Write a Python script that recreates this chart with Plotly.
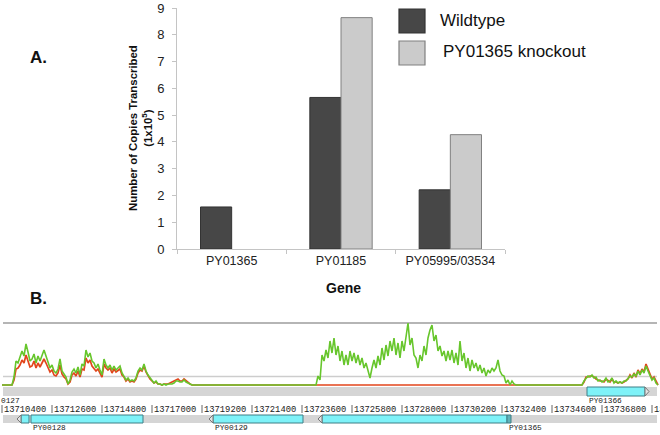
import plotly.graph_objects as go

# ---------------- Panel A data ----------------
genes_bar = ["PY01365", "PY01185", "PY05995/03534"]
wildtype = [1.57, 5.66, 2.21]
knockout = [0, 8.64, 4.27]
series_names = ["Wildtype", "PY01365 knockout"]
y_tick_vals = [0, 1, 2, 3, 4, 5, 6, 7, 8, 9]

# ---------------- Panel B data ----------------
cov_start = 13710400          # genomic position of the first coverage sample
cov_step = 88                 # bp between coverage samples

green_left = [0, 0, 0, 0, 0, 0, 8, 24, 22, 28,
              34, 29, 41, 33, 24, 26, 31, 22, 29, 24,
              30, 35, 29, 24, 17, 20, 14, 12, 16, 26,
              14, 11, 8, 1, 5, 13, 16, 12, 18, 10,
              21, 19, 35, 28, 32, 24, 22, 17, 21, 15,
              10, 26, 20, 17, 20, 15, 19, 15, 17, 19,
              12, 9, 5, 7, 4, 5, 4, 7, 14, 17,
              15, 21, 14, 10, 7, 5, 2, 4, 1, 1,
              0, 1, 0, 1, 1, 1, 2, 4, 4, 3,
              3, 5, 3, 2, 1, 0, 0, 0]
red_left = [0, 0, 0, 0, 0, 0, 5, 16, 17, 20,
            25, 22, 30, 25, 18, 19, 24, 17, 22, 18,
            23, 26, 22, 18, 13, 15, 10, 9, 12, 20,
            11, 8, 6, 1, 3, 10, 12, 9, 14, 8,
            16, 15, 27, 22, 25, 19, 17, 14, 16, 12,
            8, 21, 17, 15, 17, 12, 16, 13, 15, 16,
            10, 8, 4, 6, 3, 4, 3, 6, 12, 15,
            14, 19, 13, 9, 6, 4, 2, 3, 1, 1,
            0, 1, 1, 1, 2, 3, 4, 5, 6, 4,
            4, 6, 4, 2, 1, 0, 0, 0]
flat_gap1 = [0] * 60
green_mid = [9, 5, 30, 24, 35, 27, 44, 32, 47, 30,
             39, 24, 34, 20, 30, 20, 34, 24, 32, 22,
             30, 20, 27, 17, 22, 14, 7, 17, 25, 17,
             29, 20, 37, 25, 40, 29, 44, 34, 47, 30,
             42, 27, 44, 34, 50, 62, 40, 47, 30, 27,
             17, 30, 24, 39, 30, 47, 55, 60, 44, 50,
             34, 39, 29, 34, 24, 34, 25, 35, 22, 32,
             20, 44, 24, 32, 17, 27, 14, 25, 17, 22,
             14, 20, 12, 17, 9, 15, 12, 17, 14, 17,
             25, 14, 10, 9, 2, 5, 0, 4, 1, 0]
red_mid = [0] * 100
flat_gap2 = [0] * 33
green_right = [4, 7, 9, 8, 10, 7, 8, 4, 5, 3,
               4, 7, 3, 4, 7, 2, 4, 2, 3, 2,
               4, 4, 7, 9, 8, 11, 9, 14, 10, 15,
               12, 19, 14, 10, 5, 7, 2, 0]
red_right = [3, 8, 8, 9, 9, 8, 6, 5, 4, 4,
             3, 6, 4, 3, 6, 3, 3, 2, 3, 2,
             3, 5, 6, 10, 7, 12, 8, 15, 11, 16,
             13, 21, 16, 12, 6, 8, 3, 0]

green_cov = green_left + flat_gap1 + green_mid + flat_gap2 + green_right
red_cov = red_left + flat_gap1 + red_mid + flat_gap2 + red_right
cov_pos = [cov_start + i * cov_step for i in range(len(green_cov))]

ruler_ticks = [13710400, 13712600, 13714800, 13717000, 13719200, 13721400, 13723600,
               13725800, 13728000, 13730200, 13732400, 13734600, 13736800, 13739000]

gene_names = ["PY00128", "PY00129", "", "PY01365", "PY01366"]
gene_exons = [[(13711236, 13711588), (13711676, 13716604)],
              [(13719684, 13723644)],
              [(13724480, 13732620)],
              [(13732620, 13732796)],
              [(13736140, 13738692)]]
gene_strand = ["-", "-", "-", "-", "+"]
gene_track = [0, 0, 0, 0, 1]
gene_color = ["#7ef2f8", "#7ef2f8", "#7ef2f8", "#5fb3ba", "#7ef2f8"]
offedge_label = "0127"

# ---------------- layout helpers ----------------
W, H = 660, 435
def pxx(v): return v / W
def pyy(v): return 1 - v / H

view_start = 13710312
bp_per_px = 44
SANS = "Liberation Sans, Arial, sans-serif"
MONO = "Liberation Mono, Courier New, monospace"

fig = go.Figure()

fig.add_trace(go.Bar(x=genes_bar, y=wildtype, name=series_names[0],
                     marker=dict(color="#474747", line=dict(color="#333333", width=1)),
                     xaxis="x", yaxis="y", showlegend=False, hoverinfo="skip"))
fig.add_trace(go.Bar(x=genes_bar, y=knockout, name=series_names[1],
                     marker=dict(color="#cbcbcb",
                                 line=dict(color="#808080",
                                           width=[1 if v > 0 else 0 for v in knockout])),
                     xaxis="x", yaxis="y", showlegend=False, hoverinfo="skip"))

fig.add_trace(go.Scatter(x=cov_pos, y=red_cov, mode="lines",
                         line=dict(color="#e2461d", width=1.7),
                         xaxis="x2", yaxis="y2", showlegend=False, hoverinfo="skip"))
fig.add_trace(go.Scatter(x=cov_pos, y=green_cov, mode="lines",
                         line=dict(color="#67c62c", width=1.6),
                         xaxis="x2", yaxis="y2", showlegend=False, hoverinfo="skip"))

shapes = []
annotations = []

# legend (panel A)
legend_colors = [("#474747", "#333333"), ("#cbcbcb", "#808080")]
legend_rows = [(9, 33, 438, 21), (41, 65, 441, 51)]
for name, (fc, lc), (y0, y1, tx, ty) in zip(series_names, legend_colors, legend_rows):
    shapes.append(dict(type="rect", xref="paper", yref="paper",
                       x0=pxx(399), x1=pxx(425), y0=pyy(y1), y1=pyy(y0),
                       fillcolor=fc, line=dict(color=lc, width=1.2)))
    annotations.append(dict(text=name, xref="paper", yref="paper", x=pxx(tx), y=pyy(ty),
                            xanchor="left", yanchor="middle", showarrow=False,
                            font=dict(family=SANS, size=17, color="#111111")))

annotations.append(dict(text="<b>A.</b>", xref="paper", yref="paper", x=pxx(38), y=pyy(57),
                        xanchor="center", yanchor="middle",
                        showarrow=False, font=dict(family=SANS, size=17, color="#111111")))
annotations.append(dict(text="<b>B.</b>", xref="paper", yref="paper", x=pxx(38), y=pyy(298),
                        xanchor="center", yanchor="middle",
                        showarrow=False, font=dict(family=SANS, size=17, color="#111111")))
annotations.append(dict(text="<b>Number of Copies Transcribed<br>(1x10<sup>5</sup>)</b>",
                        xref="paper", yref="paper", x=pxx(140), y=pyy(128), textangle=-90,
                        xanchor="center", yanchor="middle",
                        showarrow=False, font=dict(family=SANS, size=11.4, color="#111111")))
annotations.append(dict(text="<b>Gene</b>", xref="paper", yref="paper", x=pxx(343), y=pyy(288),
                        xanchor="center", yanchor="middle",
                        showarrow=False, font=dict(family=SANS, size=14, color="#111111")))

# panel B tracks (y2 units)
scale_top, scale_mid = 62, 8.5
band_up = (-11, -2)
band_low = (-38, -30)
shapes.append(dict(type="line", xref="paper", yref="y2", x0=pxx(3), x1=pxx(657),
                   y0=scale_top, y1=scale_top, line=dict(color="#9c9c9c", width=1.5), layer="below"))
shapes.append(dict(type="line", xref="paper", yref="y2", x0=pxx(3), x1=pxx(657),
                   y0=scale_mid, y1=scale_mid, line=dict(color="#cdcdcd", width=1.5), layer="below"))
for b in (band_up, band_low):
    shapes.append(dict(type="rect", xref="paper", yref="y2", x0=pxx(3), x1=pxx(657),
                       y0=b[0], y1=b[1], fillcolor="#d5d5d5", line=dict(width=0), layer="below"))

# ruler
for t in ruler_ticks:
    shapes.append(dict(type="line", xref="x2", yref="y2", x0=t, x1=t, y0=-20, y1=-28,
                       line=dict(color="#666666", width=1)))
    annotations.append(dict(text=str(t), xref="x2", yref="y2", x=t, y=-25, xanchor="left",
                            xshift=1, yanchor="middle", showarrow=False, borderpad=0,
                            font=dict(family=MONO, size=8.8, color="#222222")))

# genes
arrow_bp = 4 * bp_per_px
for name, exons, strand, track, col in zip(gene_names, gene_exons, gene_strand, gene_track, gene_color):
    y0, y1 = (band_low if track == 0 else band_up)
    for (s, e) in exons:
        shapes.append(dict(type="rect", xref="x2", yref="y2", x0=s, x1=e, y0=y0, y1=y1,
                           fillcolor=col, line=dict(color="#3e7f86", width=1)))
    gs, ge = exons[0][0], exons[-1][1]
    ym = (y0 + y1) / 2
    if ge - gs > 10 * bp_per_px:
        if strand == "-":
            p = f"M {gs},{y1} L {gs - arrow_bp},{ym} L {gs},{y0} Z"
        else:
            p = f"M {ge},{y1} L {ge + arrow_bp},{ym} L {ge},{y0} Z"
        shapes.append(dict(type="path", xref="x2", yref="y2", path=p,
                           fillcolor="#e4e4e4", line=dict(color="#777777", width=1)))
    if name:
        lab_x = max(exons, key=lambda ex: ex[1] - ex[0])[0]
        ly = -43 if track == 0 else -16
        annotations.append(dict(text=name, xref="x2", yref="y2", x=lab_x, y=ly, xanchor="left",
                                xshift=1, yanchor="middle", showarrow=False, borderpad=0,
                                font=dict(family=MONO, size=7.8, color="#222222")))

annotations.append(dict(text=offedge_label, xref="paper", yref="y2", x=0, y=-15.5, xanchor="left",
                        yanchor="middle", showarrow=False, borderpad=0,
                        font=dict(family=MONO, size=7.8, color="#222222")))

fig.update_layout(
    width=W, height=H, margin=dict(l=0, r=0, t=0, b=0, pad=0, autoexpand=False),
    paper_bgcolor="white", plot_bgcolor="white",
    barmode="group", bargap=0.43, bargroupgap=0,
    showlegend=False,
    xaxis=dict(domain=[pxx(177), pxx(505)], anchor="y", showline=True, linecolor="#c4c4c4",
               linewidth=1, ticks="outside", tickson="boundaries", ticklen=4, automargin=False,
               tickcolor="#c4c4c4", showgrid=False, zeroline=False,
               tickfont=dict(family=SANS, size=12.5, color="#222222")),
    yaxis=dict(domain=[pyy(249), pyy(8)], anchor="x", range=[0, 9], tickvals=y_tick_vals,
               showline=True, linecolor="#c4c4c4", linewidth=1, ticks="outside", ticklen=4,
               tickcolor="#c4c4c4", showgrid=False, zeroline=False, ticklabelstandoff=5,
               automargin=False,
               tickfont=dict(family=SANS, size=13, color="#222222")),
    xaxis2=dict(domain=[0, 1], anchor="y2", range=[view_start, view_start + W * bp_per_px],
                visible=False, automargin=False),
    yaxis2=dict(domain=[0, pyy(290)], anchor="x2", range=[-50, 95], visible=False,
                automargin=False),
    shapes=shapes, annotations=annotations,
)

fig.write_html("out.html", config={"displayModeBar": False},
               post_script="document.body.style.margin='0';document.body.style.overflow='hidden';")
